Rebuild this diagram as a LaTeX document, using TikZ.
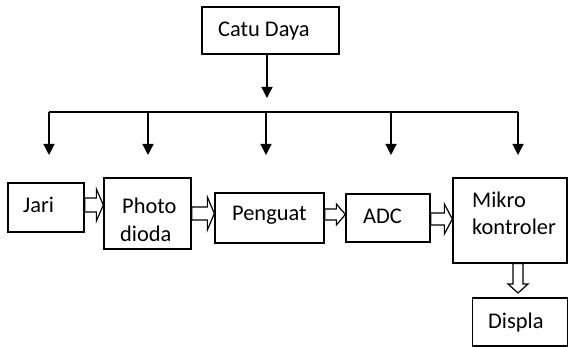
\documentclass[tikz,border=0pt]{standalone}
\usepackage{fontspec}
\setmainfont{Carlito}
\usetikzlibrary{arrows.meta,calc}

\tikzset{
  block/.style={draw, line width=1.3pt, inner sep=0pt},
  lbl/.style={anchor=base west, inner sep=0pt, font=\fontsize{22.4}{25}\selectfont},
  feed/.style={line width=1.3pt, -{Triangle[width=11pt,length=11pt]}},
  bus/.style={line width=1.3pt},
  hollow/.style={draw, fill=white, line width=1.2pt, line join=miter}
}

% wide hollow arrow pointing right: start point, target point, shaft half-height, head half-height, head length
\newcommand{\fatright}[5]{%
  \draw[hollow] let \p1=(#1), \p2=(#2) in
    (\x1,\y1+#3pt) -- (\x2-#5pt,\y1+#3pt) -- (\x2-#5pt,\y1+#4pt) -- (\x2,\y1)
    -- (\x2-#5pt,\y1-#4pt) -- (\x2-#5pt,\y1-#3pt) -- (\x1,\y1-#3pt) -- cycle;}
% wide hollow arrow pointing down
\newcommand{\fatdown}[5]{%
  \draw[hollow] let \p1=(#1), \p2=(#2) in
    (\x1-#3pt,\y1) -- (\x1-#3pt,\y2+#5pt) -- (\x1-#4pt,\y2+#5pt) -- (\x1,\y2)
    -- (\x1+#4pt,\y2+#5pt) -- (\x1+#3pt,\y2+#5pt) -- (\x1+#3pt,\y1) -- cycle;}

\begin{document}
\begin{tikzpicture}[x=1pt,y=1pt]
\useasboundingbox (0,0) rectangle (569,347);

% blocks
\node[block, minimum width=137pt, minimum height=47pt] (catu) at (270.5,316.5) {};
\node[block, minimum width=76pt,  minimum height=49pt] (jari) at (46,139.5) {};
\node[block, minimum width=87pt,  minimum height=71pt] (photo) at (147.5,133.5) {};
\node[block, minimum width=109pt, minimum height=50pt] (penguat) at (269.5,129) {};
\node[block, minimum width=84pt,  minimum height=48pt] (adc) at (388,129) {};
\node[block, minimum width=114pt, minimum height=85pt] (mikro) at (510,126.5) {};
\node[block, minimum width=95pt,  minimum height=48pt] (displa) at (520,25) {};

% labels
\node[lbl] (tcatu) at (218,310.5) {Catu Daya};
\node[lbl] (tjari) at (23,134.5) {Jari};
\node[lbl] (tphoto1) at (122,133.5) {Photo};
\node[lbl] (tphoto2) at (120,105.5) {dioda};
\node[lbl] (tpenguat) at (232,126.5) {Penguat};
\node[lbl] (tadc) at (363,123.5) {ADC};
\node[lbl] (tmikro1) at (472,139.5) {Mikro};
\node[lbl] (tmikro2) at (472,112.5) {kontroler};
\node[lbl] (tdispla) at (488,18.5) {Displa};

% power distribution bus
\coordinate (supplyend) at (267,249);
\draw[feed] (catu.south -| supplyend) -- (supplyend);
\coordinate (busL) at (49,235);
\coordinate (busR) at (518,235);
\draw[bus] (busL) -- (busR);
\foreach \name/\x in {dj/49, dp/148, dg/266, da/391, dm/518}{
  \coordinate (\name top) at (\x,235);
  \coordinate (\name end) at (\x,192);
  \draw[feed] (\name top) -- (\name end);
}

% signal path
\fatright{$(jari.east)+(0,2.5)$}{photo.west}{7}{16}{7}
\fatright{$(photo.east)+(0,0)$}{penguat.west}{6.5}{16.5}{7}
\fatright{$(penguat.east)+(0,3.5)$}{adc.west}{5.5}{10.5}{9}
\fatright{$(adc.east)+(0,-1)$}{mikro.west}{6}{15}{8}
\coordinate (dispin) at (518,54);
\fatdown{mikro.south -| dispin}{dispin}{5}{10}{9}
\end{tikzpicture}
\end{document}
